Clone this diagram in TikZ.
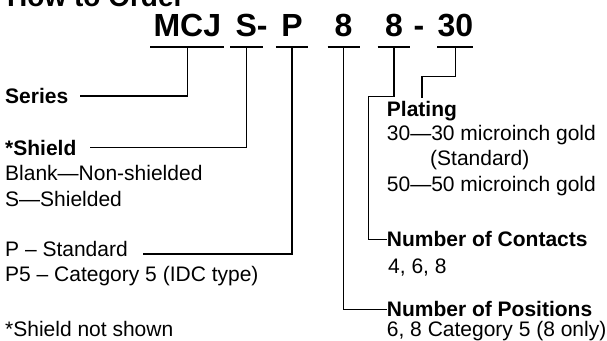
\documentclass[tikz,border=0pt]{standalone}
\usepackage{fontspec}
\setmainfont{Liberation Sans}
\newcommand{\labelsize}{\fontsize{21}{25}\selectfont}
\newcommand{\codesize}{\fontsize{32}{32}\selectfont\bfseries}
\newcommand{\titlesize}{\fontsize{28}{28}\selectfont\bfseries}
\begin{document}
\begin{tikzpicture}[x=1pt,y=-1pt,
  part/.style={font=\codesize,inner sep=0pt,text height=23pt,
    text depth=10pt,minimum width=#1,anchor=base},
  head/.style={font=\labelsize\bfseries,inner sep=0pt,
    text height=15pt,text depth=0pt,anchor=base west},
  desc/.style={font=\labelsize,inner sep=0pt,anchor=base west},
  uline/.style={line width=2.2pt},
  lead/.style={line width=1.4pt}]
  \useasboundingbox (0,0) rectangle (607,340);
  \clip (0,0) rectangle (607,340);
  \node[font=\titlesize,inner sep=0pt,anchor=base west] (title)
    at (7,6.7) {How to Order};
  % part number
  \node[part=73.3] (mcj) at (187.3,36.7) {MCJ};
  \node[part=32]   (shd) at (246.3,36.7) {S\rlap{-}};
  \node[part=32]   (pin) at (292,36.7) {P};
  \node[part=31.6] (pos) at (343.5,36.7) {8};
  \node[part=32.3] (cnt) at (394,36.7) {8};
  \node[font=\codesize,inner sep=0pt,anchor=base] (hyph)
    at (419,36.7) {-};
  \node[part=34.7] (plt) at (455.3,36.7) {30};
  \foreach \p in {mcj,shd,pin,pos,cnt,plt}
    \draw[uline] (\p.south west) -- (\p.south east);
  % left column
  \node[head] (series) at (5,103.3) {Series};
  \node[head] (shield) at (5,155) {*Shield};
  \node[desc] (blank) at (5,180.5) {Blank—Non-shielded};
  \node[desc] (shielded) at (5,206.7) {S—Shielded};
  \node[desc] (pstd) at (5,256.7) {P – Standard};
  \node[desc] (pfive) at (5,281.7) {P5 – Category 5 (IDC type)};
  \node[desc] (note) at (5,336) {*Shield not shown};
  % right column
  \node[head] (plating) at (386.7,116.7) {Plating};
  \node[desc] (gold30) at (386.7,140.7) {30—30 microinch gold};
  \node[desc] (stdnote) at (430,165.5) {(Standard)};
  \node[desc] (gold50) at (386.7,191.7) {50—50 microinch gold};
  \node[head] (contacts) at (386.7,246.7) {Number of Contacts};
  \node[desc] (contvals) at (388,273.3) {4, 6, 8};
  \node[head] (positions) at (386.7,316.7) {Number of Positions};
  \node[desc] (posvals) at (386.7,336.4) {6, 8 Category 5 (8 only)};
  % leaders
  \coordinate (kink) at (368.3,96.7);
  \draw[lead,shorten >=12pt] (mcj.south) |- (series.east);
  \draw[lead,shorten >=13pt] (shd.south) |- (shield.east);
  \draw[lead,shorten >=15pt] (pin.south) |- (pstd.mid east);
  \draw[lead] (pos.south) |- (positions.west);
  \draw[lead] (cnt.south) |- (kink) |- (contacts.west);
  \draw[lead,shorten >=4pt] (plt.south) -- ++(0,29.3) -| (plating.north);
\end{tikzpicture}
\end{document}
